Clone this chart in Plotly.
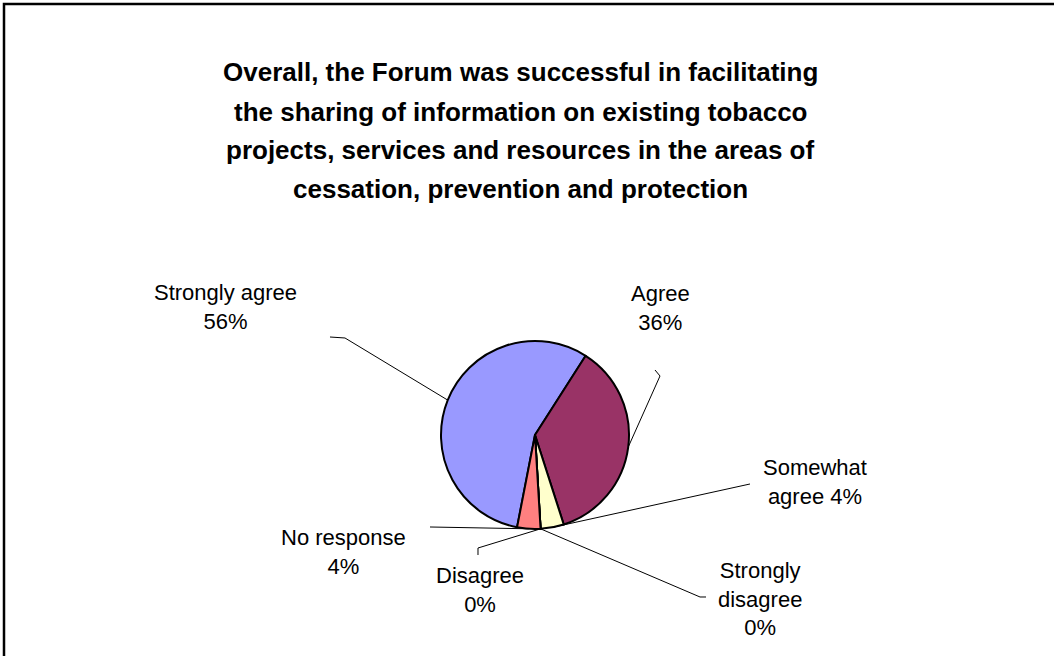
import math
import plotly.graph_objects as go

# ---- data ----
categories = ["Strongly agree", "Agree", "Somewhat agree", "Strongly disagree", "Disagree", "No response"]
percent_values = [56, 36, 4, 0, 0, 4]
label_texts = ["Strongly agree<br>56%", "Agree<br>36%", "Somewhat<br>agree 4%",
               "Strongly<br>disagree<br>0%", "Disagree<br>0%", "No response<br>4%"]
slice_colors = ["#9999FF", "#993366", "#FFFFCC", "#CCFFFF", "#660066", "#FF8080"]
title_lines = ["Overall, the Forum was successful in facilitating",
               "the sharing of information on existing tobacco",
               "projects, services and resources in the areas of",
               "cessation, prevention and protection"]

W, H = 1054, 656
FONT = "Liberation Sans, Arial, sans-serif"

def px(x):
    return x / W

def py(y):
    return 1 - y / H

# pie geometry (pixels)
CX, CY, R = 535, 435, 94
ROT = 191.0

fig = go.Figure()
fig.add_trace(go.Pie(
    labels=categories, values=percent_values, sort=False, direction="clockwise",
    rotation=ROT, textinfo="none", hoverinfo="label+percent",
    marker=dict(colors=slice_colors, line=dict(color="black", width=2)),
    domain=dict(x=[px(CX - R), px(CX + R)], y=[py(CY + R), py(CY - R)]),
    showlegend=False,
))

# mid-angle of each slice (degrees clockwise from 12 o'clock), from the data
total = sum(percent_values)
mids = []
acc = ROT
for v in percent_values:
    span = 360.0 * v / total
    mids.append(acc + span / 2)
    acc += span

def edge(i):
    a = math.radians(mids[i])
    return CX + R * math.sin(a), CY - R * math.cos(a)

# label placement (pixel centres) and leader-line label ends
label_pos = [(225, 307), (660, 308), (815, 482), (760, 599), (480, 590), (343, 552)]
leader_start = [[(330, 337), (345, 338)], [(655, 370), (660, 376)], [(750, 484)],
                [(706, 597), (700, 597)], [(478, 555), (478, 548)], [(430, 527)]]

shapes = [dict(type="rect", xref="paper", yref="paper", x0=px(4), y0=py(4), x1=1.2, y1=-0.2,
               line=dict(color="black", width=2.5), fillcolor="rgba(0,0,0,0)")]
for i in range(len(categories)):
    pts = leader_start[i] + [edge(i)]
    path = "M " + " L ".join(f"{px(x):.5f},{py(y):.5f}" for x, y in pts)
    shapes.append(dict(type="path", xref="paper", yref="paper", path=path,
                       line=dict(color="black", width=1)))

annotations = []
for i, t in enumerate(label_texts):
    x, y = label_pos[i]
    annotations.append(dict(text=t, x=px(x), y=py(y), xref="paper", yref="paper",
                            showarrow=False, xanchor="center", yanchor="middle",
                            font=dict(family=FONT, size=22, color="black")))
title_y = [72, 112, 150, 189]
for t, y in zip(title_lines, title_y):
    annotations.append(dict(text=f"<b>{t}</b>", x=px(520), y=py(y), xref="paper", yref="paper",
                            showarrow=False, xanchor="center", yanchor="middle",
                            font=dict(family=FONT, size=26, color="black")))

fig.update_layout(width=W, height=H, margin=dict(l=0, r=0, t=0, b=0),
                  paper_bgcolor="white", plot_bgcolor="white",
                  shapes=shapes, annotations=annotations)
fig.write_html("out.html")
